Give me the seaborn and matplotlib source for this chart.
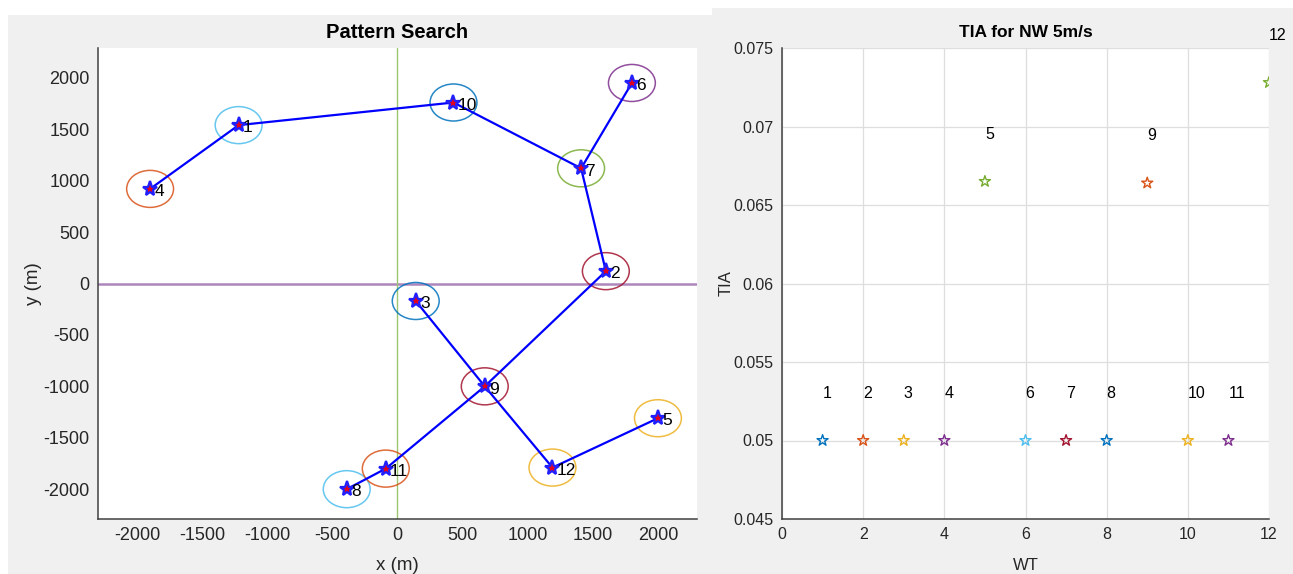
import numpy as np
import pandas as pd
import matplotlib
matplotlib.use("Agg")
import matplotlib.pyplot as plt
from matplotlib.patches import Rectangle, Circle
from matplotlib.ticker import FuncFormatter
import seaborn as sns

# Turbine layout (metres) found by the pattern search
turbine_id = [1, 2, 3, 4, 5, 6, 7, 8, 9, 10, 11, 12]
turbine_x = [-1220, 1600, 140, -1900, 2000, 1800, 1410, -390, 670, 430, -90, 1190]
turbine_y = [1540, 120, -170, 920, -1310, 1950, 1120, -2000, -1000, 1760, -1800, -1790]

# Cable routes connecting the turbines (by turbine id)
cable_routes = [[4, 1, 10, 7, 6], [7, 2, 9, 11, 8], [3, 9, 12, 5]]

# Added turbulence intensity per turbine, NW wind at 5 m/s
tia_values = [0.05, 0.05, 0.05, 0.05, 0.0665, 0.05, 0.05, 0.05, 0.0664, 0.05, 0.05, 0.0728]

# MATLAB-like colour order
order = ["#0072BD", "#D95319", "#EDB120", "#7E2F8E", "#77AC30", "#4DBEEE", "#A2142F"]
star_colors = [order[i % 7] for i in range(12)]
ring_colors = [order[(i + 5) % 7] for i in range(12)]
safety_radius = 180

sns.set_style("white")
plt.rcParams["font.family"] = ["Liberation Sans", "DejaVu Sans"]
plt.rcParams["axes.unicode_minus"] = False
text_col = "#262626"

fig = plt.figure(figsize=(12.93, 5.74), dpi=100, facecolor="white")
W, H = 1293, 574
# panel backgrounds
fig.patches.append(Rectangle((8 / W, 0), (712 - 8) / W, 1 - 15 / H,
                             transform=fig.transFigure, facecolor="#f0f0f0",
                             edgecolor="none", zorder=-10))
fig.patches.append(Rectangle((712 / W, 0), (W - 712) / W, 1 - 8 / H,
                             transform=fig.transFigure, facecolor="#f0f0f0",
                             edgecolor="none", zorder=-10))

ax1 = fig.add_axes([98 / W, 1 - 519 / H, (697 - 98) / W, (519 - 48) / H])
ax2 = fig.add_axes([782 / W, 1 - 519 / H, (1269 - 782) / W, (519 - 48) / H])

# ---------------- left: layout ----------------
layout = pd.DataFrame({"id": turbine_id, "x": turbine_x, "y": turbine_y}).set_index("id")

ax1.axhline(0, color="#AD86BC", lw=1.8, zorder=1)
ax1.axvline(0, color="#9DC46E", lw=1.0, zorder=1)

rows = []
for r, route in enumerate(cable_routes):
    for k, tid in enumerate(route):
        rows.append({"route": r, "step": k, "x": layout.loc[tid, "x"], "y": layout.loc[tid, "y"]})
routes_df = pd.DataFrame(rows)
sns.lineplot(data=routes_df, x="x", y="y", units="route", estimator=None, sort=False,
             color="#0000FF", lw=1.6, ax=ax1, zorder=3)

for tid, c in zip(turbine_id, ring_colors):
    ax1.add_patch(Circle((layout.loc[tid, "x"], layout.loc[tid, "y"]), safety_radius,
                         fill=False, edgecolor=c, lw=1.1, alpha=0.85, zorder=2))

ax1.plot(layout["x"], layout["y"], ls="none", marker="*", ms=11,
         markerfacecolor="#E00020", markeredgecolor="#2020FF", mew=1.6, zorder=4)
for tid in turbine_id:
    ax1.annotate(str(tid), (layout.loc[tid, "x"], layout.loc[tid, "y"]),
                 xytext=(3, -2), textcoords="offset points", ha="left", va="center",
                 fontsize=12.5, color="black", zorder=5)

ax1.set_xlim(-2300, 2300)
ax1.set_ylim(-2290, 2290)
ax1.set_xticks(np.arange(-2000, 2001, 500))
ax1.set_yticks(np.arange(-2000, 2001, 500))
ax1.set_title("Pattern Search", fontsize=14.5, fontweight="bold", color="black", pad=7)
ax1.set_xlabel("x (m)", color=text_col, fontsize=13.5, labelpad=9)
ax1.set_ylabel("y (m)", color=text_col, fontsize=13.5, labelpad=1)
ax1.tick_params(labelsize=13)

# ---------------- right: TIA ----------------
tia_df = pd.DataFrame({"WT": turbine_id, "TIA": tia_values})
sns.scatterplot(data=tia_df, x="WT", y="TIA", marker="*", s=70, ax=ax2,
                legend=False, zorder=3)
coll = ax2.collections[-1]
coll.set_facecolor("none")
coll.set_edgecolor(star_colors)
coll.set_linewidth(1.0)
for wt, v in zip(turbine_id, tia_values):
    ax2.text(wt, v + 0.003, str(wt), ha="left", va="center", fontsize=11.5, color="black")

ax2.set_xlim(0, 12)
ax2.set_ylim(0.045, 0.075)
ax2.set_xticks(np.arange(0, 13, 2))
ax2.set_yticks(np.arange(0.045, 0.0751, 0.005))
ax2.yaxis.set_major_formatter(FuncFormatter(lambda v, p: f"{v:g}"))
ax2.grid(True, color="#dedede", lw=0.9)
ax2.set_axisbelow(True)
ax2.set_title("TIA for NW 5m/s", fontsize=12.5, fontweight="bold", color="black", pad=8)
ax2.set_xlabel("WT", color=text_col, fontsize=12, labelpad=11)
ax2.set_ylabel("TIA", color=text_col, fontsize=12, labelpad=0)
ax2.tick_params(labelsize=11.5)

for ax in (ax1, ax2):
    ax.set_facecolor("white")
    for s in ("top", "right"):
        ax.spines[s].set_visible(False)
    for s in ("left", "bottom"):
        ax.spines[s].set_color("#404040")
        ax.spines[s].set_linewidth(1.1)
    ax.tick_params(direction="in", length=4, width=1, color="#404040",
                   labelcolor=text_col, pad=6)

fig.savefig("out.png", dpi=100, facecolor="white")
